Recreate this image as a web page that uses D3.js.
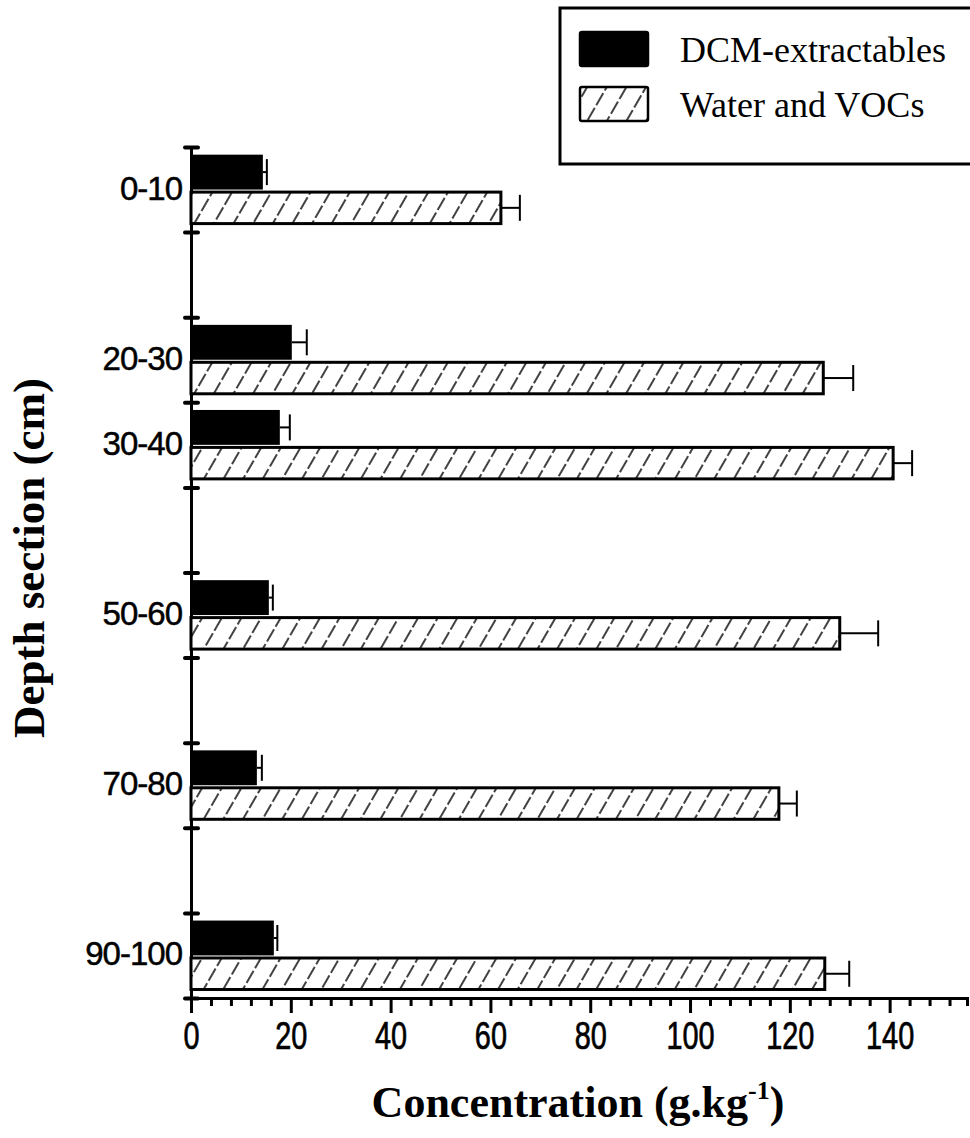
<!DOCTYPE html>
<html>
<head>
<meta charset="utf-8">
<script src="https://cdn.jsdelivr.net/npm/d3@7"></script>
<style>
  body { margin: 0; background: #fff; }
  svg { display: block; }
</style>
</head>
<body>
<div id="chart"></div>
<script>
// depth sections (cm) and concentrations (g/kg)
var sections = ["0-10", "20-30", "30-40", "50-60", "70-80", "90-100"];
var depthTop = [0, 20, 30, 50, 70, 90];
var dcmValues = [14.4, 20.2, 17.8, 15.6, 13.2, 16.6];
var dcmErrors = [0.8, 3.0, 2.0, 0.8, 1.0, 0.7];
var waterValues = [62.1, 126.7, 140.7, 130.0, 117.8, 127.0];
var waterErrors = [3.8, 6.0, 3.8, 7.7, 3.6, 4.9];
var xTicks = [0, 20, 40, 60, 80, 100, 120, 140];
var depthTicks = [0, 10, 20, 30, 40, 50, 60, 70, 80, 90, 100];
var legendLabels = ["DCM-extractables", "Water and VOCs"];

var W = 970, H = 1138;
var serif = "'Liberation Serif', 'Times New Roman', serif";
var sans = "'Liberation Sans', Arial, sans-serif";

var svg = d3.select("#chart").append("svg")
    .attr("width", W)
    .attr("height", H);
svg.append("rect").attr("width", W).attr("height", H).attr("fill", "#fff");

var defs = svg.append("defs");
var hatch = defs.append("pattern")
    .attr("id", "hatch")
    .attr("patternUnits", "userSpaceOnUse")
    .attr("width", 17).attr("height", 17)
    .attr("patternTransform", "rotate(30)");
hatch.append("rect").attr("width", 17).attr("height", 17).attr("fill", "#fff");
hatch.append("line")
    .attr("x1", 8).attr("y1", 0).attr("x2", 8).attr("y2", 17)
    .attr("stroke", "#111").attr("stroke-width", 1.6)
    .attr("stroke-dasharray", "14,3");

var x = d3.scaleLinear().domain([0, 155.5]).range([191, 967]);
var y = d3.scaleLinear().domain([0, 100]).range([147, 998]);

// x axis
var xAxis = svg.append("g")
    .attr("transform", "translate(0," + y(100) + ")")
    .call(d3.axisBottom(x).tickValues(d3.range(0, 156, 4)).tickSize(8).tickFormat(""));
xAxis.selectAll("line").attr("stroke-width", 3);
xAxis.select(".domain").attr("stroke-width", 3);
xAxis.selectAll(".tick").filter(function(d){ return xTicks.indexOf(d) >= 0; })
    .select("line").attr("y2", 15);
xAxis.selectAll(".tick").filter(function(d){ return xTicks.indexOf(d) >= 0; })
    .append("text")
    .attr("y", 51)
    .attr("transform", "scale(0.76,1)")
    .attr("text-anchor", "middle")
    .attr("fill", "#000")
    .attr("stroke", "#000")
    .attr("stroke-width", 0.7)
    .style("font-family", sans)
    .style("font-size", "38px")
    .text(function(d){ return d; });

// y axis (depth)
var yAxis = svg.append("g")
    .attr("transform", "translate(" + x(0) + ",0)")
    .call(d3.axisLeft(y).tickValues(depthTicks).tickSize(6).tickSizeOuter(0).tickFormat(""));
yAxis.select(".domain").attr("stroke-width", 3);
yAxis.selectAll(".tick line").attr("x1", -6).attr("x2", 7).attr("stroke-width", 4)
    .attr("stroke-linecap", "round");

// section labels
svg.append("g").selectAll("text")
    .data(sections)
    .join("text")
    .attr("x", 182)
    .attr("y", function(d, i){ return y(depthTop[i] + 5) + 10; })
    .attr("text-anchor", "end")
    .attr("stroke", "#000")
    .attr("stroke-width", 0.5)
    .style("font-family", sans)
    .style("font-size", "33px")
    .style("letter-spacing", "-1px")
    .text(function(d){ return d; });

// bars
var bars = svg.append("g");
bars.selectAll(".dcm")
    .data(dcmValues)
    .join("rect")
    .attr("class", "dcm")
    .attr("x", x(0))
    .attr("y", function(d, i){ return y(depthTop[i] + 0.9); })
    .attr("width", function(d){ return x(d) - x(0); })
    .attr("height", y(5.0) - y(0.9))
    .attr("fill", "#000");

bars.selectAll(".water")
    .data(waterValues)
    .join("rect")
    .attr("class", "water")
    .attr("x", x(0))
    .attr("y", function(d, i){ return y(depthTop[i] + 5.3); })
    .attr("width", function(d){ return x(d) - x(0); })
    .attr("height", y(9.0) - y(5.3))
    .attr("fill", "url(#hatch)")
    .attr("stroke", "#000")
    .attr("stroke-width", 3);

// error bars
function errorBars(vals, errs, d0, d1){
    var g = svg.append("g").attr("stroke", "#000").attr("stroke-width", 2);
    vals.forEach(function(v, i){
	var cy = y(depthTop[i] + (d0 + d1) / 2);
	g.append("line").attr("x1", x(v)).attr("x2", x(v + errs[i]))
	    .attr("y1", cy).attr("y2", cy);
	g.append("line").attr("x1", x(v + errs[i])).attr("x2", x(v + errs[i]))
	    .attr("y1", cy - 13).attr("y2", cy + 13);
    });
}
errorBars(dcmValues, dcmErrors, 0.9, 5.0);
errorBars(waterValues, waterErrors, 5.3, 9.0);

// axis titles
svg.append("text")
    .attr("transform", "translate(44,558) rotate(-90)")
    .attr("text-anchor", "middle")
    .style("font-family", serif)
    .style("font-weight", "bold")
    .style("font-size", "45px")
    .text("Depth section (cm)");

var xt = svg.append("text")
    .attr("x", 578).attr("y", 1117)
    .attr("text-anchor", "middle")
    .style("font-family", serif)
    .style("font-weight", "bold")
    .style("font-size", "44px");
xt.append("tspan").text("Concentration (g.kg");
xt.append("tspan").attr("dy", -18).style("font-size", "26px").text("-1");
xt.append("tspan").attr("dy", 18).text(")");

// legend
var legend = svg.append("g");
legend.append("rect")
    .attr("x", 560).attr("y", 8).attr("width", 430).attr("height", 156)
    .attr("fill", "#fff").attr("stroke", "#000").attr("stroke-width", 3);
var fills = ["#000", "url(#hatch)"];
legendLabels.forEach(function(lbl, i){
    var ly = 32 + i * 55;
    legend.append("rect")
	.attr("x", 580).attr("y", ly).attr("width", 68).attr("height", 34)
	.attr("fill", fills[i]).attr("stroke", "#000").attr("stroke-width", 2.5)
	.attr("rx", 2);
    legend.append("text")
	.attr("x", 680).attr("y", ly + 30)
	.style("font-family", serif)
	.style("font-size", "36px")
	.text(lbl);
});
</script>
</body>
</html>
